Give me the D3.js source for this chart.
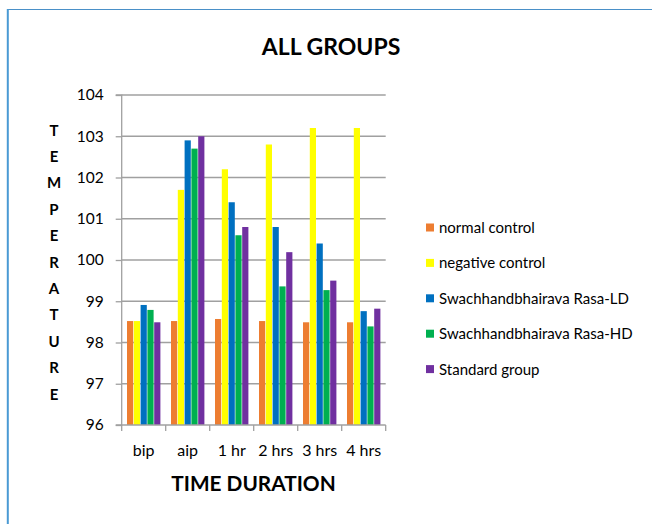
<!DOCTYPE html>
<html><head><meta charset="utf-8">
<script src="https://cdn.jsdelivr.net/npm/d3@7"></script>
<style>html,body{margin:0;padding:0;background:#fff;}svg{display:block;}</style>
</head><body>
<svg id="c" width="652" height="524"></svg>
<script>
const categories = ["bip", "aip", "1 hr", "2 hrs", "3 hrs", "4 hrs"];
const seriesNames = ["normal control", "negative control", "Swachhandbhairava Rasa-LD", "Swachhandbhairava Rasa-HD", "Standard group"];
const seriesColors = ["#ED7D31", "#FFFF00", "#0070C0", "#00B050", "#7030A0"];
const normalControl   = [98.52, 98.52, 98.57, 98.52, 98.49, 98.49];
const negativeControl = [98.52, 101.70, 102.20, 102.80, 103.20, 103.20];
const rasaLD          = [98.91, 102.90, 101.40, 100.80, 100.40, 98.76];
const rasaHD          = [98.79, 102.70, 100.60, 99.36, 99.27, 98.39];
const standardGroup   = [98.49, 103.00, 100.80, 100.19, 99.50, 98.82];
const yTicks = [96, 97, 98, 99, 100, 101, 102, 103, 104];
const seriesValues = [normalControl, negativeControl, rasaLD, rasaHD, standardGroup];

const font = "Lato, 'Open Sans', sans-serif";
const svg = d3.select("#c");

// chart border (left and top visible)
svg.append("line").attr("x1", 8).attr("x2", 652).attr("y1", 9.5).attr("y2", 9.5)
  .attr("stroke", "#4A90C8").attr("stroke-width", 1.2);
svg.append("line").attr("x1", 7.8).attr("x2", 7.8).attr("y1", 9).attr("y2", 524)
  .attr("stroke", "#4A9AD4").attr("stroke-width", 2);

const pLeft = 121.7, pRight = 385.7, pTop = 95, pBottom = 425;
const x0 = d3.scaleBand().domain(categories).range([pLeft, pRight]).padding(0);
const x1 = d3.scaleBand().domain(seriesNames).range([5, x0.bandwidth() - 5]).padding(0);
const y = d3.scaleLinear().domain([96, 104]).range([pBottom, pTop]);

// gridlines
svg.append("g").selectAll("line").data(yTicks.filter(t => t > 96)).join("line")
  .attr("x1", pLeft).attr("x2", pRight)
  .attr("y1", d => y(d)).attr("y2", d => y(d))
  .attr("stroke", "#A0A0A0").attr("stroke-width", 1.3);

// bars
const groups = svg.append("g").selectAll("g").data(categories).join("g")
  .attr("transform", d => `translate(${x0(d)},0)`);
groups.selectAll("rect").data((d, i) => seriesNames.map((s, j) => ({s, j, v: seriesValues[j][i]})))
  .join("rect")
  .attr("x", d => x1(d.s) + 0.3)
  .attr("width", x1.bandwidth() - 0.6)
  .attr("y", d => y(d.v))
  .attr("height", d => y(96) - y(d.v))
  .attr("fill", d => seriesColors[d.j]);

// y axis
const yAxis = d3.axisLeft(y).tickValues(yTicks).tickSize(6).tickPadding(12).tickFormat(d3.format("d"));
const ya = svg.append("g").attr("transform", `translate(${pLeft},0)`).call(yAxis);
ya.select(".domain").attr("stroke", "#A0A0A0").attr("stroke-width", 1.3).attr("d", `M-6,${pTop}H0V${pBottom}H-6`);
ya.selectAll(".tick line").attr("stroke", "#A0A0A0").attr("stroke-width", 1.3);
ya.selectAll(".tick text").attr("font-family", font).attr("font-size", 15.5).attr("fill", "#000");

// x axis
const xAxis = d3.axisBottom(x0).tickSize(0).tickPadding(0);
const xa = svg.append("g").attr("transform", `translate(0,${pBottom})`).call(xAxis);
xa.select(".domain").attr("stroke", "#A0A0A0").attr("stroke-width", 1.3).attr("d", `M${pLeft},0H${pRight}`);
xa.selectAll(".tick text").attr("font-family", font).attr("font-size", 16).attr("fill", "#000")
  .attr("dy", 0).attr("y", 31);
const boundaries = categories.map(c => x0(c)).concat([pRight]);
xa.append("g").selectAll("line").data(boundaries).join("line")
  .attr("x1", d => d).attr("x2", d => d).attr("y1", 0).attr("y2", 6)
  .attr("stroke", "#A0A0A0").attr("stroke-width", 1.3);

// title
svg.append("text").attr("x", 331).attr("y", 55).attr("text-anchor", "middle")
  .attr("font-family", font).attr("font-weight", "bold").attr("font-size", 23).attr("fill", "#000")
  .text("ALL GROUPS");

// x axis title
svg.append("text").attr("x", 253.5).attr("y", 491).attr("text-anchor", "middle")
  .attr("font-family", font).attr("font-weight", "bold").attr("font-size", 20.8).attr("fill", "#000")
  .text("TIME DURATION");

// y axis title, stacked letters
const yTitle = "TEMPERATURE".split("");
svg.append("g").selectAll("text").data(yTitle).join("text")
  .attr("x", 54).attr("y", (d, i) => 135.5 + i * 26.4).attr("text-anchor", "middle")
  .attr("font-family", font).attr("font-weight", "bold").attr("font-size", 15).attr("fill", "#000")
  .text(d => d);

// legend
const lg = svg.append("g").selectAll("g").data(seriesNames).join("g")
  .attr("transform", (d, i) => `translate(426,${227.5 + i * 35.4})`);
lg.append("rect").attr("x", 0).attr("y", -4).attr("width", 8).attr("height", 8)
  .attr("fill", (d, i) => seriesColors[i]);
lg.append("text").attr("x", 13).attr("y", 5.5).attr("font-family", font).attr("font-size", 15).attr("fill", "#000")
  .text(d => d);
</script>
</body></html>
